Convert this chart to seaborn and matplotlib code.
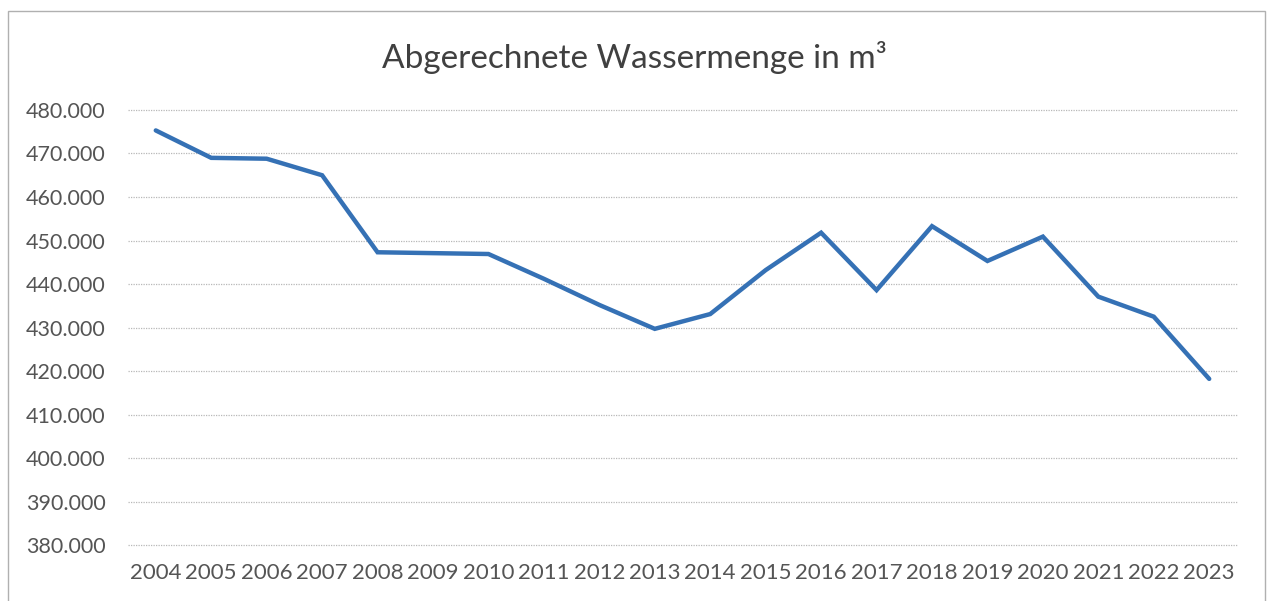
import numpy as np
import pandas as pd
import matplotlib
matplotlib.use("Agg")
import matplotlib.pyplot as plt
from matplotlib.patches import Rectangle
from matplotlib.ticker import FuncFormatter
import seaborn as sns

years = list(range(2004, 2024))
water_m3 = [475.3, 469.0, 468.8, 465.0, 447.3, 447.1, 446.9, 441.2, 435.2, 429.7,
            433.1, 443.2, 451.8, 438.6, 453.3, 445.3, 450.9, 437.1, 432.5, 418.2]
water_m3 = [v * 1000 for v in water_m3]

title = "Abgerechnete Wassermenge in m³"

sns.set_theme(style="white")
plt.rcParams["font.family"] = ["Lato", "DejaVu Sans"]

df = pd.DataFrame({"year": years, "value": water_m3})

fig = plt.figure(figsize=(12.68, 6.01), dpi=100)
ax = fig.add_axes([0.101, 0.093, 0.8745, 0.724])

sns.lineplot(data=df, x="year", y="value", ax=ax, color="#3571b5", linewidth=3.2,
             solid_joinstyle="miter")

ax.set_xlim(2003.5, 2023.5)
ax.set_ylim(380000, 480000)
ax.set_yticks(np.arange(380000, 480001, 10000))
ax.set_xticks(years)
ax.yaxis.set_major_formatter(FuncFormatter(lambda v, p: f"{v/1000:.3f}"))
ax.grid(axis="y", color="#b8b8b8", linestyle=(0, (1, 1)), linewidth=0.9)
for gl in ax.get_ygridlines():
    gl.set_clip_on(False)
ax.set_axisbelow(True)
for s in ax.spines.values():
    s.set_visible(False)
ax.tick_params(axis="both", length=0, labelsize=15.5, colors="#555555")
ax.tick_params(axis="y", pad=16)
ax.tick_params(axis="x", labelsize=16, pad=13)
ax.set_xlabel("")
ax.set_ylabel("")

fig.text(0.5, 0.905, title, ha="center", va="center", fontsize=24, color="#404040")

fig.patches.append(Rectangle((8 / 1268, -0.05), (1265 - 8) / 1268, 1.05 - 11 / 601,
                             transform=fig.transFigure, fill=False,
                             edgecolor="#b0b0b0", linewidth=1.0))

fig.savefig("out.png", dpi=100, facecolor="white")
